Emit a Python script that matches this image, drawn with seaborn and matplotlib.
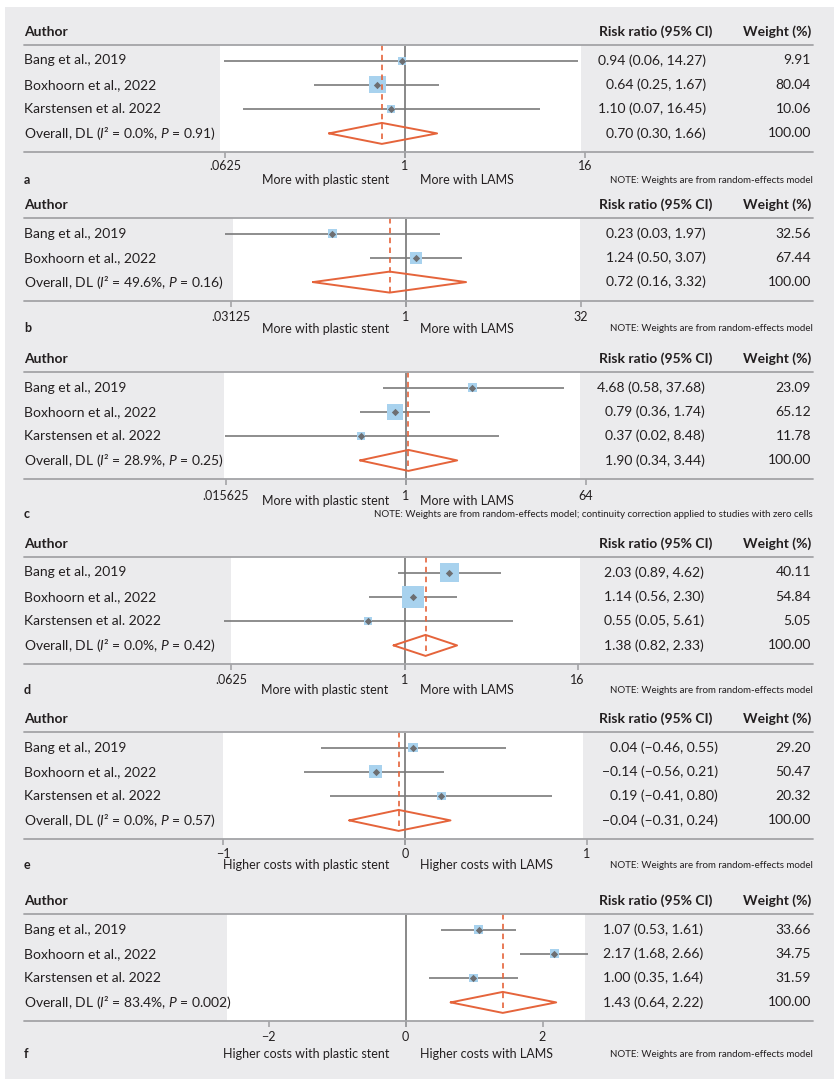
import numpy as np
import matplotlib
matplotlib.use("Agg")
import matplotlib.pyplot as plt
import seaborn as sns
from matplotlib.lines import Line2D
from matplotlib.patches import Rectangle

# ---- values ----
studies3 = ["Bang et al., 2019", "Boxhoorn et al., 2022", "Karstensen et al. 2022"]
studies2 = ["Bang et al., 2019", "Boxhoorn et al., 2022"]

# a
a_est = [0.95, 0.65, 0.81]
a_lo = [0.062, 0.246, 0.082]
a_hi = [14.3, 1.69, 8.0]
a_wt = [9.91, 80.04, 10.06]
a_overall = [0.70, 0.31, 1.64]
a_ci_text = ["0.94 (0.06, 14.27)", "0.64 (0.25, 1.67)", "1.10 (0.07, 16.45)", "0.70 (0.30, 1.66)"]
a_het = ["0.0%", "0.91"]

# b
b_est = [0.235, 1.23]
b_lo = [0.028, 0.495]
b_hi = [1.97, 3.07]
b_wt = [32.56, 67.44]
b_overall = [0.73, 0.16, 3.32]
b_ci_text = ["0.23 (0.03, 1.97)", "1.24 (0.50, 3.07)", "0.72 (0.16, 3.32)"]
b_het = ["49.6%", "0.16"]

# c
c_est = [4.7, 0.79, 0.36]
c_lo = [0.59, 0.35, 0.0156]
c_hi = [38.5, 1.76, 8.7]
c_wt = [23.09, 65.12, 11.78]
c_overall = [1.07, 0.35, 3.3]
c_ci_text = ["4.68 (0.58, 37.68)", "0.79 (0.36, 1.74)", "0.37 (0.02, 8.48)", "1.90 (0.34, 3.44)"]
c_het = ["28.9%", "0.25"]

# d
d_est = [2.05, 1.15, 0.56]
d_lo = [0.90, 0.57, 0.056]
d_hi = [4.7, 2.32, 5.7]
d_wt = [40.11, 54.84, 5.05]
d_overall = [1.40, 0.84, 2.32]
d_ci_text = ["2.03 (0.89, 4.62)", "1.14 (0.56, 2.30)", "0.55 (0.05, 5.61)", "1.38 (0.82, 2.33)"]
d_het = ["0.0%", "0.42"]

# e
e_est = [0.045, -0.16, 0.20]
e_lo = [-0.46, -0.555, -0.41]
e_hi = [0.555, 0.215, 0.805]
e_wt = [29.20, 50.47, 20.32]
e_overall = [-0.035, -0.306, 0.25]
e_ci_text = ["0.04 (\u22120.46, 0.55)", "\u22120.14 (\u22120.56, 0.21)",
             "0.19 (\u22120.41, 0.80)", "\u22120.04 (\u22120.31, 0.24)"]
e_het = ["0.0%", "0.57"]

# f
f_est = [1.07, 2.17, 0.99]
f_lo = [0.52, 1.67, 0.34]
f_hi = [1.61, 2.66, 1.64]
f_wt = [33.66, 34.75, 31.59]
f_overall = [1.42, 0.66, 2.20]
f_ci_text = ["1.07 (0.53, 1.61)", "2.17 (1.68, 2.66)", "1.00 (0.35, 1.64)", "1.43 (0.64, 2.22)"]
f_het = ["83.4%", "0.002"]

ticks_ad = [1 / 16, 1, 16]
ticks_b = [1 / 32, 1, 32]
ticks_c = [1 / 64, 1, 64]
ticks_e = [-1, 0, 1]
ticks_f = [-2, 0, 2]
ticklabels_ad = [".0625", "1", "16"]
ticklabels_b = [".03125", "1", "32"]
ticklabels_c = [".015625", "1", "64"]
ticklabels_e = ["\u22121", "0", "1"]
ticklabels_f = ["\u22122", "0", "2"]

rr_labels = ["More with plastic stent", "More with LAMS"]
cost_labels = ["Higher costs with plastic stent", "Higher costs with LAMS"]
note = "NOTE: Weights are from random-effects model"
note_c = note + "; continuity correction applied to studies with zero cells"

# ---- build panels ----
panels = [
    dict(letter="a", names=studies3, est=a_est, lo=a_lo, hi=a_hi, wt=a_wt, ov=a_overall,
         ci=a_ci_text, het=a_het, ticks=ticks_ad, tlab=ticklabels_ad, xlab=rr_labels, note=note,
         top=45, x0=220, x1=581, null_px=405, ppu=45, log=True,
         tick_off=14, lab_off=28, let_off=28, ci_right=706, k=1.9),
    dict(letter="b", names=studies2, est=b_est, lo=b_lo, hi=b_hi, wt=b_wt, ov=b_overall,
         ci=b_ci_text, het=b_het, ticks=ticks_b, tlab=ticklabels_b, xlab=rr_labels, note=note,
         top=218, x0=233, x1=580, null_px=405.5, ppu=35, log=True,
         tick_off=16, lab_off=28, let_off=27, ci_right=706, k=1.46),
    dict(letter="c", names=studies3, est=c_est, lo=c_lo, hi=c_hi, wt=c_wt, ov=c_overall,
         ci=c_ci_text, het=c_het, ticks=ticks_c, tlab=ticklabels_c, xlab=rr_labels, note=note_c,
         top=372, x0=224, x1=580, null_px=405.5, ppu=30, log=True,
         tick_off=17, lab_off=22, let_off=35, ci_right=705, k=1.98),
    dict(letter="d", names=studies3, est=d_est, lo=d_lo, hi=d_hi, wt=d_wt, ov=d_overall,
         ci=d_ci_text, het=d_het, ticks=ticks_ad, tlab=ticklabels_ad, xlab=rr_labels, note=note,
         top=557, x0=231, x1=580, null_px=404.5, ppu=43.3, log=True,
         tick_off=16, lab_off=26, let_off=26, ci_right=704, k=3.04),
    dict(letter="e", names=studies3, est=e_est, lo=e_lo, hi=e_hi, wt=e_wt, ov=e_overall,
         ci=e_ci_text, het=e_het, ticks=ticks_e, tlab=ticklabels_e, xlab=cost_labels, note=note,
         top=732, x0=223, x1=583, null_px=405, ppu=182, log=False,
         tick_off=15, lab_off=26, let_off=26, ci_right=718, k=1.83),
    dict(letter="f", names=studies3, est=f_est, lo=f_lo, hi=f_hi, wt=f_wt, ov=f_overall,
         ci=f_ci_text, het=f_het, ticks=ticks_f, tlab=ticklabels_f, xlab=cost_labels, note=note,
         top=914, x0=227, x1=585, null_px=405.5, ppu=68.5, log=False,
         tick_off=16, lab_off=33, let_off=33, ci_right=703, k=1.5),
]

# ---- style ----
sns.set_theme(style="white")
plt.rcParams["font.family"] = ["Lato", "DejaVu Sans"]
plt.rcParams["mathtext.fontset"] = "custom"
plt.rcParams["mathtext.rm"] = "Lato"
plt.rcParams["mathtext.it"] = "Lato:italic"
plt.rcParams["mathtext.bf"] = "Lato:bold"

BG = "#ebebed"
TXT = "#231f20"
RULE = "#a3a4a7"
CI_GRAY = "#7a7a7a"
NULL_GRAY = "#808080"
PT_GRAY = "#6d6e71"
BLUE = "#a8d2ee"
RED = "#e5643b"

W, H = 839, 1085
ROW0, ROWH, BOT = 15.5, 24.3, 19
TICK_LEN = 6

fig = plt.figure(figsize=(W / 100, H / 100), dpi=100)
fig.patch.set_facecolor("white")
fig.add_artist(Rectangle((5 / W, 1 - 1079 / H), 829 / W, 1072 / H, transform=fig.transFigure,
                         facecolor=BG, edgecolor="none", zorder=0))


def fx(x):
    return x / W


def fy(y):
    return 1 - y / H


def hrule(y):
    fig.add_artist(Line2D([fx(24), fx(813)], [fy(y), fy(y)], color=RULE, lw=1.3,
                          transform=fig.transFigure, zorder=1))


for p in panels:
    n = len(p["est"]) + 1
    top = p["top"]
    rows_px = [top + ROW0 + ROWH * i for i in range(n)]
    bottom = rows_px[-1] + BOT
    y_top = -ROW0 / ROWH
    y_bot = n - 1 + BOT / ROWH
    tick_d = TICK_LEN / ROWH

    ax = fig.add_axes([fx(p["x0"]), fy(bottom), fx(p["x1"]) - fx(p["x0"]), (bottom - top) / H])
    ax.set_facecolor("white")
    if p["log"]:
        ax.set_xscale("log", base=2)
        ax.set_xlim(2 ** ((p["x0"] - p["null_px"]) / p["ppu"]), 2 ** ((p["x1"] - p["null_px"]) / p["ppu"]))
        null = 1
    else:
        ax.set_xlim((p["x0"] - p["null_px"]) / p["ppu"], (p["x1"] - p["null_px"]) / p["ppu"])
        null = 0
    ax.set_ylim(y_bot, y_top)
    ax.tick_params(which="both", bottom=False, left=False, labelbottom=False, labelleft=False)
    for s in ax.spines.values():
        s.set_visible(False)

    rows = np.arange(n - 1)
    est, lo, hi, wt = (np.array(p[k]) for k in ("est", "lo", "hi", "wt"))

    # null line and ticks
    ax.vlines(null, y_top + 0.05, y_bot + tick_d, color=NULL_GRAY, lw=1.3, clip_on=False, zorder=1)
    ax.vlines(p["ticks"], y_bot, y_bot + tick_d, color=RULE, lw=1.2, clip_on=False, zorder=1)
    for t, lab in zip(p["ticks"], p["tlab"]):
        ax.text(t, y_bot + p["tick_off"] / ROWH, lab, ha="center", va="center",
                fontsize=9, color=TXT, clip_on=False)

    # study estimates
    ax.hlines(rows, lo, hi, color=CI_GRAY, lw=1.2, clip_on=False, zorder=2)
    side = np.maximum(8, p["k"] * np.sqrt(wt))
    sns.scatterplot(x=est, y=rows, marker="s", s=(side * 0.72) ** 2, color=BLUE,
                    linewidth=0, ax=ax, zorder=3, legend=False)
    sns.scatterplot(x=est, y=rows, marker="D", s=14, color=PT_GRAY,
                    linewidth=0, ax=ax, zorder=4, legend=False)

    # overall diamond
    o_est, o_lo, o_hi = p["ov"]
    r = n - 1
    dh = 10.5 / ROWH
    ax.vlines(o_est, y_top, r + dh, color=RED, lw=1.2, linestyles=(0, (3.3, 2.6)), zorder=5)
    ax.plot([o_lo, o_est, o_hi, o_est, o_lo], [r, r - dh, r, r + dh, r], color=RED, lw=1.4,
            zorder=6, clip_on=False)

    # rules
    hrule(top)
    hrule(bottom)

    # headers
    fig.text(fx(24), fy(top - 13), "Author", fontsize=10, fontweight="bold", color=TXT, va="center")
    fig.text(fx(712), fy(top - 13), "Risk ratio (95% CI)", fontsize=10, fontweight="bold",
             color=TXT, va="center", ha="right")
    fig.text(fx(811), fy(top - 13), "Weight (%)", fontsize=10, fontweight="bold",
             color=TXT, va="center", ha="right")

    # left column
    labels = list(p["names"]) + [f"Overall, DL ($I$\u00b2 = {p['het'][0]}, $P$ = {p['het'][1]})"]
    weights = [f"{w:.2f}" for w in wt] + ["100.00"]
    for y, name, ci, w in zip(rows_px, labels, p["ci"], weights):
        fig.text(fx(24), fy(y), name, fontsize=10, color=TXT, va="center")
        fig.text(fx(p["ci_right"]), fy(y), ci, fontsize=10, color=TXT, va="center", ha="right")
        fig.text(fx(811), fy(y), w, fontsize=10, color=TXT, va="center", ha="right")

    # footer
    fig.text(fx(p["null_px"] - 16), fy(bottom + p["lab_off"]), p["xlab"][0], fontsize=9,
             color=TXT, va="center", ha="right")
    fig.text(fx(p["null_px"] + 15), fy(bottom + p["lab_off"]), p["xlab"][1], fontsize=9,
             color=TXT, va="center", ha="left")
    fig.text(fx(24), fy(bottom + p["let_off"]), p["letter"], fontsize=9, fontweight="bold",
             color=TXT, va="center")
    fig.text(fx(813), fy(bottom + p["let_off"]), p["note"], fontsize=7, color=TXT,
             va="center", ha="right")

fig.savefig("out.png", dpi=100, facecolor=fig.get_facecolor())
